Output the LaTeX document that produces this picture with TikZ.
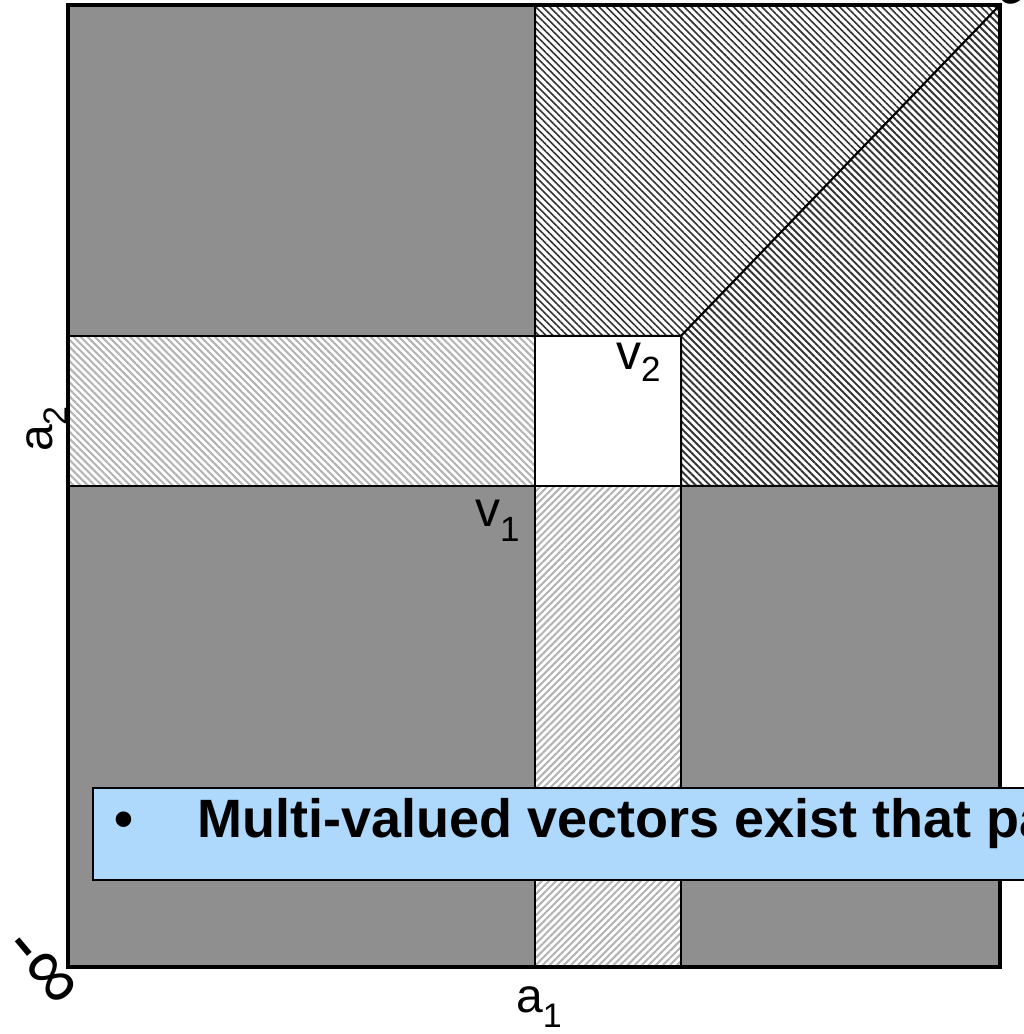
\documentclass[tikz,border=0pt]{standalone}
\usepackage{fontspec}
\setmainfont{Liberation Sans}
\usepackage{xcolor}
\usetikzlibrary{calc,patterns.meta}

\definecolor{quadgray}{RGB}{143,143,143}
\definecolor{notebg}{RGB}{175,217,252}
\newcommand{\fsz}[1]{\fontsize{#1}{#1}\selectfont}
\newcommand{\lblsub}[5]{\fsz{#1}#2\raisebox{-#5pt}{\fsz{#3}#4}}

\begin{document}
\begin{tikzpicture}[x=1pt,y=1pt,
	darkhatch/.style={preaction={fill=white},pattern={Lines[angle=-45,distance=5pt,line width=#1]},pattern color=black!80},
	lighthatch/.style={preaction={fill=white},pattern={Lines[angle=#1,distance=5pt,line width=2pt]},pattern color=black!30},
	region/.style={draw=black,line width=2pt}]
	\useasboundingbox (0,0) rectangle (1024,1034);
	
	\coordinate (SW) at (68,67);
	\coordinate (NE) at (1000,1029);
	\coordinate (V1) at (535,548);
	\coordinate (V2) at (681,698);
	
	\fill[quadgray] (SW) rectangle (NE);
	
	% hatched strips
	\filldraw[region,darkhatch=1.6pt] (V1 |- NE) -- (NE) -- (V2) -- (V1 |- V2) -- cycle;
	\filldraw[region,darkhatch=1.9pt] (V2) -- (NE) -- (NE |- V1) -- (V2 |- V1) -- cycle;
	\filldraw[region,lighthatch=-45] (SW |- V2) -- (V1 |- V2) -- (V1) -- (SW |- V1) -- cycle;
	\filldraw[region,lighthatch=45] (V1) -- (V2 |- V1) -- (V2 |- SW) -- (V1 |- SW) -- cycle;
	\filldraw[region,fill=white] (V1) rectangle (V2);
	
	\draw[line width=4pt] (SW) rectangle (NE);
	
	\node[anchor=base west,inner sep=0] (v1) at (475,507) {\lblsub{50}{v}{35}{1}{15}};
	\node[anchor=base west,inner sep=0] (v2) at (616,664) {\lblsub{50}{v}{35}{2}{12}};
	\node[anchor=base west,inner sep=0] (a1) at (516,21) {\lblsub{48}{a}{34}{1}{15}};
	\node[anchor=base west,inner sep=0,rotate=90] (a2) at (52,582) {\lblsub{48}{a}{34}{2}{15}};
	
	\node[rotate=-50,inner sep=0] (minf) at (40,64) {\fsz{78}-∞};
	\node[rotate=-50,inner sep=0] (pinf) at (1003,1050) {\fsz{78}∞};
	
	% note box
	\filldraw[fill=notebg,draw=black,line width=1.5pt] (93,246) rectangle (1200,154);
	\node[anchor=base west,inner sep=0] (bullet) at (114,196) {\fsz{54}\bfseries •};
	\node[anchor=base west,inner sep=0] (note) at (197,196) {\fsz{54}\bfseries Multi-valued vectors exist that pa};
\end{tikzpicture}
\end{document}
